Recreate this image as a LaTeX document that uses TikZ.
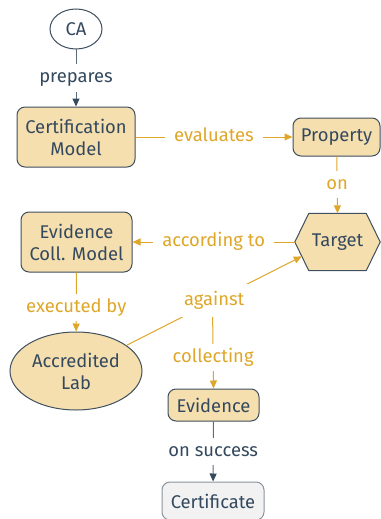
\documentclass[tikz,border=0pt]{standalone}
\usepackage{fontspec}
\setmainfont{Fira Sans}
\usetikzlibrary{arrows.meta,shapes.geometric,calc}
\definecolor{boxfill}{HTML}{F5DFAE}
\definecolor{boxline}{HTML}{3E4F5F}
\definecolor{txt}{HTML}{34495E}
\definecolor{gold}{HTML}{DFA72A}
\definecolor{dkline}{HTML}{5D6D7E}
\definecolor{certfill}{HTML}{F2F2F2}
\definecolor{certline}{HTML}{8A939B}
\tikzset{
  base/.style={font=\fontsize{18.4}{22}\selectfont, text=txt, align=center, inner sep=1pt},
  boxnode/.style={base, draw=boxline, fill=boxfill, line width=1pt, rounded corners=8pt},
  ellnode/.style={base, ellipse, draw=boxline, fill=boxfill, line width=1pt},
  goldedge/.style={draw=gold, line width=1pt, -{Triangle[length=8pt,width=7pt]}},
  darkedge/.style={draw=dkline, line width=1pt, -{Triangle[length=8pt,width=7pt,color=txt,fill=txt]}},
  lblbase/.style={font=\fontsize{18.4}{22}\selectfont, fill=white, inner xsep=9pt, inner ysep=5pt, text height=13pt, text depth=4pt},
  goldlbl/.style={lblbase, text=gold},
  darklbl/.style={lblbase, text=txt},
}
\begin{document}
\begin{tikzpicture}[x=1pt,y=-1pt]
\useasboundingbox (0,0) rectangle (380,519);
% nodes
\node[ellnode, fill=white, minimum width=52pt, minimum height=40pt] (ca) at (76,29) {CA};
\node[boxnode, minimum width=118pt, minimum height=60pt] (cm) at (76,137) {Certification\\Model};
\node[boxnode, minimum width=87pt, minimum height=38pt] (prop) at (336.5,137) {Property};
\node[base, minimum width=85pt, minimum height=57pt] (target) at (337.5,242) {};
\fill[boxfill] (target.west) -- ($(target.north west)+(14,0)$) -- ($(target.north east)+(-14,0)$) -- (target.east) -- ($(target.south east)+(-14,0)$) -- ($(target.south west)+(14,0)$) -- cycle;
\draw[boxline, line width=1pt] (target.west) -- ($(target.north west)+(14,0)$) -- ($(target.north east)+(-14,0)$) -- (target.east) -- ($(target.south east)+(-14,0)$) -- ($(target.south west)+(14,0)$) -- cycle;
\node[base] at (target) {Target};
\coordinate (tgtin) at ($(target.west)!0.5!($(target.south west)+(14,0)$)$);
\node[boxnode, minimum width=111pt, minimum height=60pt] (ecm) at (76.5,242) {Evidence\\Coll. Model};
\node[ellnode, minimum width=132pt, minimum height=78pt, inner sep=0pt] (lab) at (76,371) {Accredited\\Lab};
\node[boxnode, minimum width=91pt, minimum height=32pt] (evid) at (213.5,405) {Evidence};
\node[boxnode, draw=certline, fill=certfill, minimum width=102pt, minimum height=38pt] (cert) at (213,501) {Certificate};
% edges
\coordinate (agmid) at (212.5,306);
\draw[goldedge] (agmid) -- node[goldlbl, pos=0.63] {collecting} (evid.north);
\draw[darkedge] (ca) -- node[darklbl, pos=0.5] {prepares} (cm);
\draw[goldedge] (cm) -- node[goldlbl] {evaluates} (prop);
\draw[goldedge] (prop) -- node[goldlbl] {on} (target.north);
\draw[goldedge] (target.west) -- node[goldlbl] {according to} (ecm);
\draw[goldedge] (ecm) -- node[goldlbl, pos=0.6] {executed by} (lab);
\draw[goldedge] (lab) -- node[goldlbl, inner ysep=8pt, inner xsep=4pt] {against} (tgtin);
\draw[darkedge] (evid) -- node[darklbl] {on success} (cert);
\end{tikzpicture}
\end{document}
